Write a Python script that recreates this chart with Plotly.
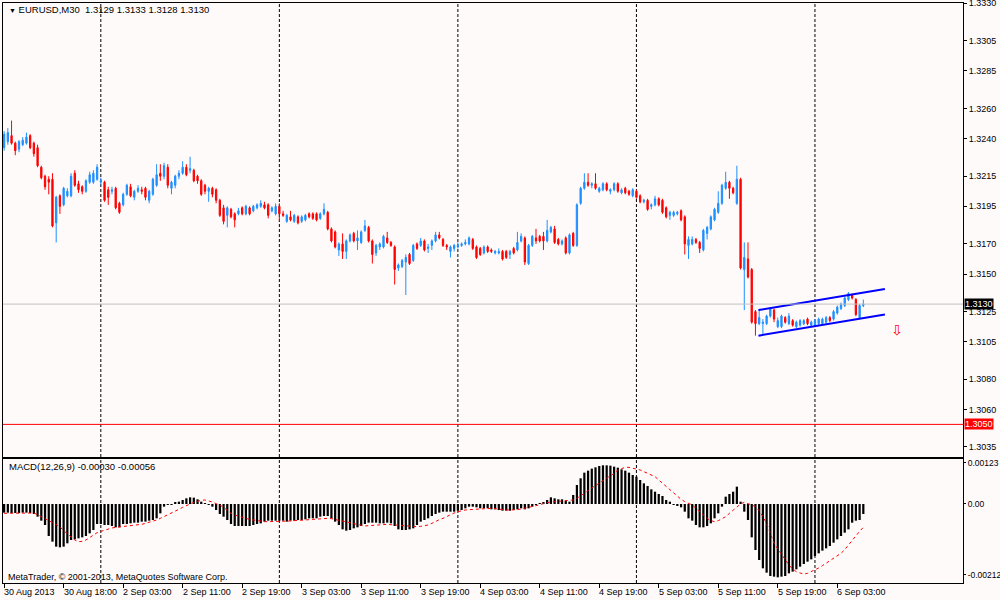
import plotly.graph_objects as go

# EURUSD M30, one row of ten bars per line (bar index = position in list)
opens = [
    1.3234, 1.3238, 1.3242, 1.3237, 1.3233, 1.3236, 1.3237, 1.3242, 1.3237, 1.3234,
    1.3221, 1.3215, 1.3213, 1.3213, 1.3184, 1.3202, 1.3196, 1.3202, 1.3202, 1.3217,
    1.3210, 1.3208, 1.3205, 1.3211, 1.3211, 1.3213, 1.3211, 1.3211, 1.3206, 1.3205,
    1.3207, 1.3197, 1.3196, 1.3203, 1.3208, 1.3201, 1.3205, 1.3206, 1.3207, 1.3199,
    1.3203, 1.3209, 1.3217, 1.3215, 1.3221, 1.3207, 1.3209, 1.3215, 1.3217, 1.3221,
    1.3219, 1.3219, 1.3215, 1.3212, 1.3209, 1.3205, 1.3207, 1.3206, 1.3199, 1.3194,
    1.3189, 1.3193, 1.3190, 1.3190, 1.3194, 1.3190, 1.3194, 1.3192, 1.3194, 1.3195,
    1.3196, 1.3196, 1.3192, 1.3190, 1.3195, 1.3190, 1.3185, 1.3188, 1.3185, 1.3188,
    1.3185, 1.3186, 1.3190, 1.3190, 1.3190, 1.3187, 1.3190, 1.3191, 1.3180, 1.3178,
    1.3166, 1.3170, 1.3165, 1.3172, 1.3177, 1.3172, 1.3171, 1.3179, 1.3181, 1.3172,
    1.3164, 1.3168, 1.3168, 1.3174, 1.3171, 1.3168, 1.3154, 1.3155, 1.3158, 1.3163,
    1.3159, 1.3170, 1.3169, 1.3172, 1.3167, 1.3169, 1.3172, 1.3176, 1.3173, 1.3169,
    1.3165, 1.3167, 1.3168, 1.3169, 1.3170, 1.3170, 1.3173, 1.3168, 1.3167, 1.3164,
    1.3168, 1.3166, 1.3164, 1.3164, 1.3165, 1.3165, 1.3163, 1.3167, 1.3166, 1.3172,
    1.3174, 1.3157, 1.3169, 1.3174, 1.3175, 1.3175, 1.3172, 1.3178, 1.3180, 1.3173,
    1.3170, 1.3174, 1.3164, 1.3177, 1.3169, 1.3197, 1.3207, 1.3211, 1.3209, 1.3210,
    1.3205, 1.3206, 1.3210, 1.3205, 1.3206, 1.3210, 1.3204, 1.3207, 1.3205, 1.3202,
    1.3205, 1.3202, 1.3198, 1.3199, 1.3195, 1.3196, 1.3200, 1.3199, 1.3194, 1.3189,
    1.3189, 1.3190, 1.3192, 1.3188, 1.3169, 1.3170, 1.3173, 1.3171, 1.3166, 1.3177,
    1.3180, 1.3186, 1.3191, 1.3197, 1.3207, 1.3211, 1.3207, 1.3197, 1.3213, 1.3153,
    1.3160, 1.3153, 1.3125, 1.3117, 1.3117, 1.3117, 1.3122, 1.3126, 1.3115, 1.3115,
    1.3121, 1.3117, 1.3119, 1.3115, 1.3116, 1.3117, 1.3120, 1.3116, 1.3116, 1.3117,
    1.3117, 1.3118, 1.3121, 1.3120, 1.3124, 1.3127, 1.3129, 1.3133, 1.3136, 1.3133,
    1.3121, 1.3129,
]
highs = [
    1.3245, 1.3247, 1.3252, 1.3238, 1.3239, 1.3241, 1.3244, 1.3243, 1.3238, 1.3236,
    1.3222, 1.3216, 1.3215, 1.3217, 1.3202, 1.3203, 1.3208, 1.3207, 1.3217, 1.3219,
    1.3212, 1.3209, 1.3213, 1.3218, 1.3219, 1.3223, 1.3214, 1.3212, 1.3208, 1.3208,
    1.3208, 1.3198, 1.3204, 1.3210, 1.3210, 1.3206, 1.3209, 1.3208, 1.3208, 1.3206,
    1.3214, 1.3223, 1.3223, 1.3224, 1.3223, 1.3212, 1.3216, 1.3219, 1.3225, 1.3223,
    1.3228, 1.3220, 1.3216, 1.3213, 1.3210, 1.3208, 1.3208, 1.3207, 1.3200, 1.3196,
    1.3195, 1.3194, 1.3191, 1.3194, 1.3195, 1.3196, 1.3195, 1.3196, 1.3197, 1.3199,
    1.3198, 1.3197, 1.3195, 1.3197, 1.3197, 1.3192, 1.3190, 1.3192, 1.3190, 1.3189,
    1.3189, 1.3190, 1.3191, 1.3191, 1.3191, 1.3191, 1.3197, 1.3192, 1.3181, 1.3179,
    1.3171, 1.3177, 1.3173, 1.3177, 1.3178, 1.3179, 1.3179, 1.3186, 1.3182, 1.3173,
    1.3170, 1.3171, 1.3176, 1.3178, 1.3172, 1.3169, 1.3157, 1.3160, 1.3163, 1.3164,
    1.3170, 1.3171, 1.3174, 1.3173, 1.3170, 1.3173, 1.3178, 1.3178, 1.3174, 1.3170,
    1.3169, 1.3170, 1.3171, 1.3171, 1.3173, 1.3175, 1.3174, 1.3169, 1.3168, 1.3169,
    1.3169, 1.3167, 1.3166, 1.3167, 1.3166, 1.3166, 1.3166, 1.3168, 1.3178, 1.3177,
    1.3175, 1.3170, 1.3176, 1.3180, 1.3176, 1.3178, 1.3186, 1.3182, 1.3182, 1.3174,
    1.3173, 1.3175, 1.3177, 1.3178, 1.3197, 1.3208, 1.3217, 1.3217, 1.3211, 1.3217,
    1.3208, 1.3211, 1.3211, 1.3207, 1.3211, 1.3211, 1.3207, 1.3208, 1.3206, 1.3207,
    1.3206, 1.3203, 1.3200, 1.3200, 1.3197, 1.3202, 1.3201, 1.3200, 1.3195, 1.3192,
    1.3192, 1.3192, 1.3193, 1.3189, 1.3175, 1.3175, 1.3174, 1.3172, 1.3180, 1.3182,
    1.3189, 1.3194, 1.3205, 1.3210, 1.3218, 1.3212, 1.3208, 1.3222, 1.3214, 1.3171,
    1.3171, 1.3154, 1.3126, 1.3126, 1.3120, 1.3123, 1.3128, 1.3127, 1.3121, 1.3123,
    1.3122, 1.3124, 1.3120, 1.3119, 1.3120, 1.3120, 1.3121, 1.3119, 1.3120, 1.3121,
    1.3121, 1.3122, 1.3122, 1.3126, 1.3129, 1.3131, 1.3135, 1.3138, 1.3137, 1.3134,
    1.3130, 1.3133,
]
lows = [
    1.3232, 1.3236, 1.3236, 1.3229, 1.3231, 1.3235, 1.3236, 1.3233, 1.3228, 1.3221,
    1.3213, 1.3206, 1.3203, 1.3181, 1.3171, 1.3190, 1.3195, 1.3201, 1.3201, 1.3208,
    1.3204, 1.3203, 1.3204, 1.3210, 1.3210, 1.3212, 1.3209, 1.3198, 1.3196, 1.3203,
    1.3193, 1.3190, 1.3195, 1.3202, 1.3201, 1.3199, 1.3204, 1.3203, 1.3199, 1.3197,
    1.3202, 1.3208, 1.3212, 1.3213, 1.3207, 1.3203, 1.3207, 1.3213, 1.3216, 1.3215,
    1.3217, 1.3211, 1.3210, 1.3202, 1.3203, 1.3198, 1.3201, 1.3197, 1.3188, 1.3183,
    1.3181, 1.3187, 1.3181, 1.3189, 1.3189, 1.3189, 1.3189, 1.3191, 1.3193, 1.3194,
    1.3193, 1.3187, 1.3191, 1.3189, 1.3185, 1.3188, 1.3184, 1.3185, 1.3184, 1.3183,
    1.3184, 1.3185, 1.3187, 1.3186, 1.3185, 1.3186, 1.3189, 1.3179, 1.3171, 1.3167,
    1.3162, 1.3160, 1.3160, 1.3171, 1.3171, 1.3166, 1.3170, 1.3178, 1.3171, 1.3157,
    1.3162, 1.3166, 1.3167, 1.3170, 1.3168, 1.3143, 1.3152, 1.3154, 1.3136, 1.3156,
    1.3158, 1.3166, 1.3168, 1.3165, 1.3164, 1.3166, 1.3171, 1.3173, 1.3168, 1.3166,
    1.3161, 1.3165, 1.3167, 1.3168, 1.3169, 1.3169, 1.3166, 1.3160, 1.3162, 1.3163,
    1.3164, 1.3164, 1.3163, 1.3163, 1.3159, 1.3160, 1.3160, 1.3163, 1.3165, 1.3171,
    1.3156, 1.3156, 1.3168, 1.3170, 1.3171, 1.3166, 1.3171, 1.3177, 1.3170, 1.3169,
    1.3169, 1.3163, 1.3163, 1.3168, 1.3168, 1.3196, 1.3206, 1.3208, 1.3207, 1.3206,
    1.3204, 1.3205, 1.3205, 1.3203, 1.3205, 1.3204, 1.3203, 1.3203, 1.3202, 1.3201,
    1.3200, 1.3197, 1.3197, 1.3192, 1.3193, 1.3195, 1.3195, 1.3190, 1.3187, 1.3186,
    1.3188, 1.3189, 1.3185, 1.3163, 1.3160, 1.3169, 1.3170, 1.3164, 1.3165, 1.3173,
    1.3179, 1.3185, 1.3190, 1.3196, 1.3206, 1.3200, 1.3203, 1.3196, 1.3153, 1.3126,
    1.3147, 1.3117, 1.3109, 1.3116, 1.3110, 1.3116, 1.3121, 1.3118, 1.3114, 1.3114,
    1.3117, 1.3116, 1.3115, 1.3114, 1.3115, 1.3116, 1.3116, 1.3115, 1.3115, 1.3116,
    1.3116, 1.3117, 1.3118, 1.3119, 1.3123, 1.3126, 1.3128, 1.3132, 1.3133, 1.3122,
    1.3120, 1.3128,
]
closes = [
    1.3243, 1.3244, 1.3237, 1.3232, 1.3238, 1.3239, 1.3241, 1.3234, 1.3230, 1.3222,
    1.3214, 1.3208, 1.3211, 1.3182, 1.3201, 1.3195, 1.3207, 1.3205, 1.3215, 1.3209,
    1.3206, 1.3205, 1.3212, 1.3216, 1.3217, 1.3221, 1.3212, 1.3199, 1.3201, 1.3206,
    1.3194, 1.3191, 1.3203, 1.3209, 1.3202, 1.3205, 1.3207, 1.3205, 1.3201, 1.3205,
    1.3213, 1.3216, 1.3215, 1.3222, 1.3209, 1.3211, 1.3215, 1.3217, 1.3221, 1.3216,
    1.3220, 1.3212, 1.3212, 1.3203, 1.3205, 1.3207, 1.3203, 1.3199, 1.3189, 1.3185,
    1.3194, 1.3188, 1.3186, 1.3192, 1.3190, 1.3195, 1.3190, 1.3195, 1.3196, 1.3197,
    1.3194, 1.3189, 1.3194, 1.3195, 1.3190, 1.3189, 1.3189, 1.3186, 1.3189, 1.3184,
    1.3188, 1.3189, 1.3188, 1.3187, 1.3186, 1.3190, 1.3193, 1.3180, 1.3172, 1.3168,
    1.3170, 1.3165, 1.3172, 1.3176, 1.3172, 1.3174, 1.3178, 1.3182, 1.3172, 1.3163,
    1.3169, 1.3170, 1.3175, 1.3171, 1.3169, 1.3153, 1.3156, 1.3159, 1.3161, 1.3157,
    1.3169, 1.3167, 1.3172, 1.3166, 1.3168, 1.3172, 1.3176, 1.3174, 1.3169, 1.3168,
    1.3168, 1.3169, 1.3169, 1.3170, 1.3171, 1.3174, 1.3167, 1.3161, 1.3163, 1.3168,
    1.3165, 1.3165, 1.3165, 1.3165, 1.3160, 1.3161, 1.3165, 1.3164, 1.3171, 1.3175,
    1.3158, 1.3169, 1.3175, 1.3172, 1.3172, 1.3172, 1.3179, 1.3181, 1.3171, 1.3170,
    1.3172, 1.3164, 1.3176, 1.3169, 1.3196, 1.3207, 1.3211, 1.3209, 1.3210, 1.3207,
    1.3207, 1.3210, 1.3206, 1.3206, 1.3210, 1.3205, 1.3206, 1.3204, 1.3203, 1.3206,
    1.3201, 1.3198, 1.3199, 1.3193, 1.3196, 1.3200, 1.3196, 1.3191, 1.3188, 1.3191,
    1.3191, 1.3191, 1.3186, 1.3170, 1.3173, 1.3173, 1.3171, 1.3167, 1.3179, 1.3181,
    1.3188, 1.3193, 1.3197, 1.3209, 1.3211, 1.3207, 1.3204, 1.3213, 1.3154, 1.3161,
    1.3148, 1.3118, 1.3117, 1.3121, 1.3118, 1.3122, 1.3127, 1.3120, 1.3119, 1.3122,
    1.3118, 1.3122, 1.3116, 1.3118, 1.3119, 1.3119, 1.3117, 1.3118, 1.3119, 1.3120,
    1.3120, 1.3121, 1.3119, 1.3125, 1.3128, 1.3130, 1.3134, 1.3137, 1.3134, 1.3123,
    1.3129, 1.3130,
]

# MACD(12,26,9): main line drawn as histogram, signal as dotted line
macd_main = [
    -0.00026, -0.00026, -0.00027, -0.00027, -0.00027, -0.00026, -0.00026, -0.00027, -0.00030, -0.00038,
    -0.00050, -0.00063, -0.00096, -0.00113, -0.00128, -0.00130, -0.00128, -0.00118, -0.00108, -0.00106,
    -0.00103, -0.00100, -0.00096, -0.00088, -0.00078, -0.00060, -0.00060, -0.00063, -0.00063, -0.00066,
    -0.00070, -0.00070, -0.00060, -0.00060, -0.00058, -0.00056, -0.00056, -0.00053, -0.00053, -0.00050,
    -0.00048, -0.00043, -0.00028, -0.00008, -0.00003, -0.00001, 0.00004, 0.00007, 0.00012, 0.00017,
    0.00020, 0.00019, 0.00014, 0.00007, 0.00002, -0.00001, -0.00008, -0.00018, -0.00030, -0.00038,
    -0.00048, -0.00060, -0.00066, -0.00066, -0.00066, -0.00066, -0.00066, -0.00063, -0.00060, -0.00058,
    -0.00053, -0.00050, -0.00050, -0.00050, -0.00050, -0.00050, -0.00053, -0.00050, -0.00050, -0.00048,
    -0.00048, -0.00046, -0.00043, -0.00043, -0.00043, -0.00038, -0.00036, -0.00036, -0.00043, -0.00053,
    -0.00063, -0.00076, -0.00080, -0.00078, -0.00073, -0.00070, -0.00066, -0.00060, -0.00056, -0.00056,
    -0.00056, -0.00058, -0.00058, -0.00056, -0.00058, -0.00066, -0.00076, -0.00078, -0.00078, -0.00076,
    -0.00073, -0.00063, -0.00053, -0.00048, -0.00043, -0.00036, -0.00030, -0.00026, -0.00023, -0.00023,
    -0.00023, -0.00023, -0.00020, -0.00018, -0.00013, -0.00008, -0.00008, -0.00010, -0.00013, -0.00013,
    -0.00013, -0.00016, -0.00016, -0.00018, -0.00020, -0.00020, -0.00020, -0.00018, -0.00016, -0.00013,
    -0.00016, -0.00013, -0.00008, -0.00003, 0.00002, 0.00006, 0.00012, 0.00020, 0.00017, 0.00014,
    0.00014, 0.00010, 0.00007, 0.00027, 0.00057, 0.00077, 0.00094, 0.00100, 0.00106, 0.00110,
    0.00114, 0.00116, 0.00116, 0.00115, 0.00112, 0.00109, 0.00104, 0.00100, 0.00094, 0.00087,
    0.00082, 0.00072, 0.00062, 0.00054, 0.00044, 0.00037, 0.00030, 0.00024, 0.00012, 0.00007,
    -0.00001, -0.00006, -0.00010, -0.00023, -0.00043, -0.00050, -0.00063, -0.00070, -0.00070, -0.00066,
    -0.00058, -0.00043, -0.00028, -0.00008, 0.00022, 0.00030, 0.00037, 0.00052, 0.00007, -0.00023,
    -0.00048, -0.00100, -0.00138, -0.00168, -0.00193, -0.00206, -0.00216, -0.00218, -0.00220, -0.00218,
    -0.00216, -0.00208, -0.00203, -0.00196, -0.00188, -0.00180, -0.00173, -0.00166, -0.00156, -0.00148,
    -0.00140, -0.00133, -0.00126, -0.00116, -0.00106, -0.00096, -0.00086, -0.00076, -0.00056, -0.00050,
    -0.00048, -0.00030,
]
macd_signal = [
    -0.00028, -0.00028, -0.00027, -0.00027, -0.00026, -0.00026, -0.00026, -0.00026, -0.00027, -0.00032,
    -0.00038, -0.00045, -0.00052, -0.00058, -0.00063, -0.00068, -0.00080, -0.00090, -0.00100, -0.00108,
    -0.00113, -0.00112, -0.00108, -0.00100, -0.00092, -0.00086, -0.00082, -0.00078, -0.00075, -0.00072,
    -0.00070, -0.00069, -0.00068, -0.00066, -0.00065, -0.00064, -0.00063, -0.00061, -0.00058, -0.00055,
    -0.00052, -0.00048, -0.00043, -0.00038, -0.00033, -0.00028, -0.00023, -0.00016, -0.00010, -0.00004,
    0.00000, 0.00005, 0.00009, 0.00011, 0.00012, 0.00010, 0.00006, 0.00001, -0.00003, -0.00010,
    -0.00018, -0.00028, -0.00033, -0.00037, -0.00040, -0.00043, -0.00046, -0.00048, -0.00050, -0.00052,
    -0.00053, -0.00053, -0.00053, -0.00052, -0.00052, -0.00052, -0.00051, -0.00051, -0.00050, -0.00050,
    -0.00049, -0.00048, -0.00047, -0.00046, -0.00045, -0.00044, -0.00043, -0.00043, -0.00044, -0.00046,
    -0.00048, -0.00051, -0.00053, -0.00056, -0.00059, -0.00062, -0.00064, -0.00066, -0.00065, -0.00064,
    -0.00063, -0.00061, -0.00060, -0.00061, -0.00062, -0.00063, -0.00064, -0.00065, -0.00066, -0.00067,
    -0.00068, -0.00068, -0.00067, -0.00065, -0.00063, -0.00058, -0.00052, -0.00047, -0.00043, -0.00037,
    -0.00032, -0.00027, -0.00023, -0.00020, -0.00018, -0.00017, -0.00016, -0.00015, -0.00015, -0.00014,
    -0.00014, -0.00013, -0.00014, -0.00016, -0.00017, -0.00018, -0.00018, -0.00018, -0.00017, -0.00015,
    -0.00013, -0.00011, -0.00008, -0.00005, -0.00002, 0.00002, 0.00004, 0.00006, 0.00007, 0.00008,
    0.00009, 0.00010, 0.00011, 0.00012, 0.00017, 0.00024, 0.00032, 0.00040, 0.00048, 0.00055,
    0.00062, 0.00070, 0.00078, 0.00085, 0.00092, 0.00102, 0.00107, 0.00110, 0.00110, 0.00108,
    0.00105, 0.00102, 0.00097, 0.00092, 0.00087, 0.00082, 0.00072, 0.00062, 0.00052, 0.00042,
    0.00032, 0.00022, 0.00014, 0.00007, 0.00002, -0.00003, -0.00013, -0.00023, -0.00033, -0.00043,
    -0.00050, -0.00053, -0.00050, -0.00045, -0.00038, -0.00028, -0.00018, -0.00008, 0.00000, 0.00005,
    0.00002, -0.00003, -0.00008, -0.00020, -0.00038, -0.00058, -0.00088, -0.00118, -0.00135, -0.00152,
    -0.00168, -0.00183, -0.00195, -0.00203, -0.00207, -0.00210, -0.00208, -0.00203, -0.00198, -0.00192,
    -0.00185, -0.00178, -0.00170, -0.00163, -0.00155, -0.00148, -0.00137, -0.00123, -0.00108, -0.00095,
    -0.00082, -0.00070,
]

# time axis labels every 16 bars
label_bars = [0, 16, 32, 48, 64, 80, 96, 112, 128, 144, 160, 176, 192, 208, 224]
label_texts = ['30 Aug 2013', '30 Aug 18:00', '2 Sep 03:00', '2 Sep 11:00', '2 Sep 19:00',
               '3 Sep 03:00', '3 Sep 11:00', '3 Sep 19:00', '4 Sep 03:00', '4 Sep 11:00',
               '4 Sep 19:00', '5 Sep 03:00', '5 Sep 11:00', '5 Sep 19:00', '6 Sep 03:00']
grid_bars = [26, 74, 122, 170, 218]

price_ticks = [1.3330, 1.3305, 1.3285, 1.3260, 1.3240, 1.3215, 1.3195, 1.3170,
               1.3150, 1.3125, 1.3105, 1.3080, 1.3060, 1.3035]
macd_ticks = [0.00123, 0.0, -0.00212]
macd_tick_text = ['0.00123', '0.00', '-0.00212']

bid_price = 1.3130
level_price = 1.3050

# drawn channel
channel_x = [202.8, 236.8]
channel_upper = [1.3126, 1.3140]
channel_lower = [1.3109, 1.3123]
arrow_x, arrow_y = 240, 1.3113

BG = '#FFFAFA'
BLUE = '#1E90FF'
RED = '#FF0000'
FONT = 'Liberation Sans'

bars = list(range(len(closes)))
x_range = [-0.3, 257.8]

fig = go.Figure()

fig.add_trace(go.Candlestick(
    x=bars, open=opens, high=highs, low=lows, close=closes,
    increasing=dict(line=dict(color=BLUE, width=1), fillcolor=BLUE),
    decreasing=dict(line=dict(color=RED, width=1), fillcolor=RED),
    whiskerwidth=0, hoverinfo='skip', xaxis='x', yaxis='y'))

for ys in (channel_upper, channel_lower):
    fig.add_trace(go.Scatter(x=channel_x, y=ys, mode='lines',
                             line=dict(color='#0000FF', width=2),
                             hoverinfo='skip', xaxis='x', yaxis='y'))

fig.add_trace(go.Bar(x=bars, y=macd_main, marker_color='black', marker_line_width=0,
                     hoverinfo='skip', xaxis='x2', yaxis='y2'))
fig.add_trace(go.Scatter(x=bars, y=macd_signal, mode='lines',
                         line=dict(color=RED, width=1, dash='dot'),
                         hoverinfo='skip', xaxis='x2', yaxis='y2'))

shapes = []
for g in grid_bars:
    for xr, yr in (('x', 'y domain'), ('x2', 'y2 domain')):
        shapes.append(dict(type='line', xref=xr, yref=yr, x0=g, x1=g, y0=0, y1=1, layer='below',
                           line=dict(color='black', width=1, dash='3px,2px')))
shapes.append(dict(type='line', xref='x domain', yref='y', x0=0, x1=1, y0=bid_price, y1=bid_price,
                   line=dict(color='#C0C0C0', width=1)))
shapes.append(dict(type='line', xref='x domain', yref='y', x0=0, x1=1, y0=level_price, y1=level_price,
                   line=dict(color=RED, width=1)))

annotations = [
    dict(xref='paper', yref='paper', x=0.004, y=0.988, xanchor='left', yanchor='middle', showarrow=False,
         font=dict(size=9.5),
         text='<span style="font-size:7px">▼</span> EURUSD,M30  1.3129 1.3133 1.3128 1.3130'),
    dict(xref='paper', yref='paper', x=0.004, y=0.2017, xanchor='left', yanchor='middle', showarrow=False,
         font=dict(size=9.5), text='MACD(12,26,9) -0.00030 -0.00056'),
    dict(xref='paper', yref='paper', x=0.003, y=0.0103, xanchor='left', yanchor='middle', showarrow=False,
         text='MetaTrader, © 2001-2013, MetaQuotes Software Corp.'),
    dict(xref='paper', yref='y', x=1, y=bid_price, xanchor='left', yanchor='middle', xshift=1,
         showarrow=False, text=f'{bid_price:.4f}', bgcolor='black', borderpad=0,
         font=dict(color='white', size=9, family=FONT)),
    dict(xref='paper', yref='y', x=1, y=level_price, xanchor='left', yanchor='middle', xshift=1,
         showarrow=False, text=f'{level_price:.4f}', bgcolor=RED, borderpad=0,
         font=dict(color='white', size=9, family=FONT)),
    dict(xref='x', yref='y', x=arrow_x, y=arrow_y, showarrow=False, text='⇩',
         font=dict(color=RED, size=14, family='DejaVu Sans')),
]
for b, t in zip(label_bars, label_texts):
    annotations.append(dict(xref='x2', yref='paper', x=b, y=-0.0155, xanchor='left', yanchor='middle',
                            xshift=-2, showarrow=False, text=t))

axis_common = dict(showgrid=False, zeroline=False, showline=True, mirror=True, automargin=False,
                   linecolor='black', linewidth=1, tickcolor='black', fixedrange=True)

fig.update_layout(
    width=1000, height=600,
    margin=dict(l=3, r=37, t=3, b=17),
    paper_bgcolor=BG, plot_bgcolor=BG,
    showlegend=False, bargap=0.4, boxgap=0.5,
    font=dict(family=FONT, size=9, color='black'),
    xaxis=dict(domain=[0, 1], range=x_range, anchor='y', showticklabels=False, ticks='',
               rangeslider=dict(visible=False), **axis_common),
    yaxis=dict(domain=[0.2172, 1], range=[1.30283, 1.33302], anchor='x', side='right',
               tickvals=price_ticks, ticktext=[f'{v:.4f}' for v in price_ticks],
               ticklabeloverflow='allow', ticks='outside', ticklen=3, **axis_common),
    xaxis2=dict(domain=[0, 1], range=x_range, anchor='y2', tickvals=label_bars, ticks='outside',
                ticklen=4, showticklabels=False, **axis_common),
    yaxis2=dict(domain=[0, 0.2138], range=[-0.00237, 0.00135], anchor='x2', side='right',
                tickvals=macd_ticks, ticktext=macd_tick_text, tickfont=dict(size=8.5),
                ticks='outside', ticklen=2, **axis_common),
    shapes=shapes,
    annotations=annotations,
)

# the page's default body margin would shift the figure by 8 px
fig.write_html("out.html", config={'displayModeBar': False},
               post_script="document.body.style.margin = '0'; document.body.style.overflow = 'hidden';")
